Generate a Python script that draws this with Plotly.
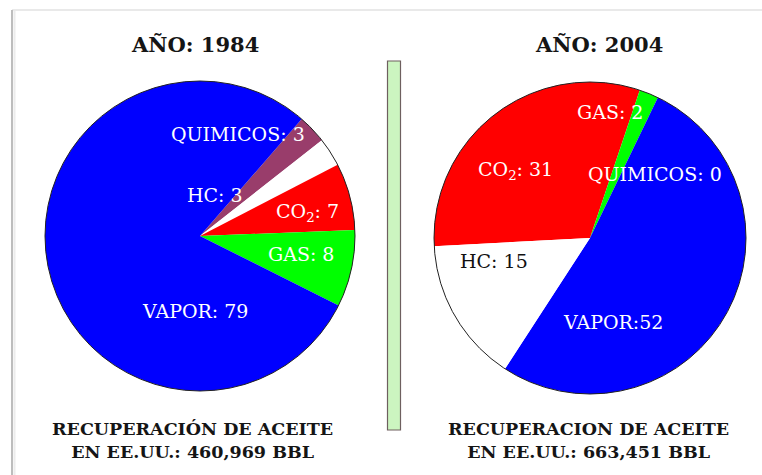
import plotly.graph_objects as go

W, H = 762, 475

# ---- data ----
names_1984 = ["QUIMICOS", "HC", "CO<sub>2</sub>", "GAS", "VAPOR"]
values_1984 = [3, 3, 7, 8, 79]
colors_1984 = ["#993d6b", "#ffffff", "#ff0000", "#00ff00", "#0000ff"]

names_2004 = ["CO<sub>2</sub>", "GAS", "QUIMICOS", "VAPOR", "HC"]
values_2004 = [31, 2, 0, 52, 15]
colors_2004 = ["#ff0000", "#00ff00", "#0000ff", "#0000ff", "#ffffff"]
sep_2004 = [": ", ": ", ": ", ":", ": "]

title_1984 = "AÑO: 1984"
title_2004 = "AÑO: 2004"
foot_1984 = "RECUPERACIÓN DE ACEITE<br>EN EE.UU.: 460,969 BBL"
foot_2004 = "RECUPERACION DE ACEITE<br>EN EE.UU.: 663,451 BBL"


def px(x):
    return x / W


def py(y):
    return 1 - y / H


SERIF = "DejaVu Serif"

fig = go.Figure()

# pie geometry (pixels)
c1 = (200, 236, 155)
c2 = (590, 238, 156)


def dom(c):
    cx, cy, r = c
    return dict(x=[px(cx - r), px(cx + r)], y=[py(cy + r), py(cy - r)])


fig.add_trace(go.Pie(
    labels=names_1984, values=values_1984, sort=False, direction="clockwise",
    rotation=41, marker=dict(colors=colors_1984, line=dict(width=0)),
    textinfo="none", hoverinfo="label+value", domain=dom(c1), showlegend=False,
))
fig.add_trace(go.Pie(
    labels=[n + " " for n in names_2004], values=values_2004, sort=False,
    direction="clockwise", rotation=-93,
    marker=dict(colors=colors_2004, line=dict(width=0)),
    textinfo="none", hoverinfo="label+value", domain=dom(c2), showlegend=False,
))

shapes = []
# outer circle outlines
for c in (c1, c2):
    cx, cy, r = c
    shapes.append(dict(type="circle", xref="paper", yref="paper",
                       x0=px(cx - r), x1=px(cx + r), y0=py(cy + r), y1=py(cy - r),
                       line=dict(color="#222222", width=1), layer="above"))
# frame (screenshot border)
shapes.append(dict(type="line", xref="paper", yref="paper", x0=px(12), x1=1,
                   y0=py(10), y1=py(10), line=dict(color="#e2e2e2", width=1.5)))
shapes.append(dict(type="line", xref="paper", yref="paper", x0=px(12), x1=px(12),
                   y0=py(10), y1=0, line=dict(color="#bdbdbd", width=2)))
shapes.append(dict(type="line", xref="paper", yref="paper", x0=px(14.5), x1=px(14.5),
                   y0=py(11), y1=0, line=dict(color="#ececec", width=2)))
# separator bar
shapes.append(dict(type="rect", xref="paper", yref="paper", x0=px(387.5), x1=px(400.5),
                   y0=py(430), y1=py(61), fillcolor="#ccf5c0",
                   line=dict(color="#6e5f5f", width=1.2)))

ann = []


def label(text, x, y, color="white", size=19):
    ann.append(dict(text=text, x=px(x), y=py(y), xref="paper", yref="paper",
                    showarrow=False, xanchor="center", yanchor="middle",
                    font=dict(family=SERIF, size=size, color=color)))


# 1984 labels
pos_1984 = [(238, 134), (215, 195), (307, 212), (301, 254), (195, 311)]
for n, v, (x, y) in zip(names_1984, values_1984, pos_1984):
    label(f"{n}: {v}", x, y)

# 2004 labels
pos_2004 = [(515, 170), (610, 112), (655, 174), (613, 322), (494, 261)]
txtcol_2004 = ["white", "white", "white", "white", "#111111"]
for n, s, v, (x, y), col in zip(names_2004, sep_2004, values_2004, pos_2004, txtcol_2004):
    label(f"{n}{s}{v}", x, y, color=col)

# titles
for t, x in ((title_1984, 195), (title_2004, 599)):
    ann.append(dict(text=f"<b>{t}</b>", x=px(x), y=py(45), xref="paper", yref="paper",
                    showarrow=False, xanchor="center", yanchor="middle",
                    font=dict(family=SERIF, size=21, color="#151515")))
# footers
for t, x in ((foot_1984, 192), (foot_2004, 588)):
    ann.append(dict(text=f"<b>{t}</b>", x=px(x), y=py(440), xref="paper", yref="paper",
                    showarrow=False, xanchor="center", yanchor="middle",
                    font=dict(family=SERIF, size=17.5, color="#151515")))

fig.update_layout(
    width=W, height=H, margin=dict(l=0, r=0, t=0, b=0),
    paper_bgcolor="white", plot_bgcolor="white",
    shapes=shapes, annotations=ann,
)

fig.write_html(
    "out.html",
    config={"displayModeBar": False},
    post_script="document.body.style.margin='0';document.body.style.overflow='hidden';",
)
